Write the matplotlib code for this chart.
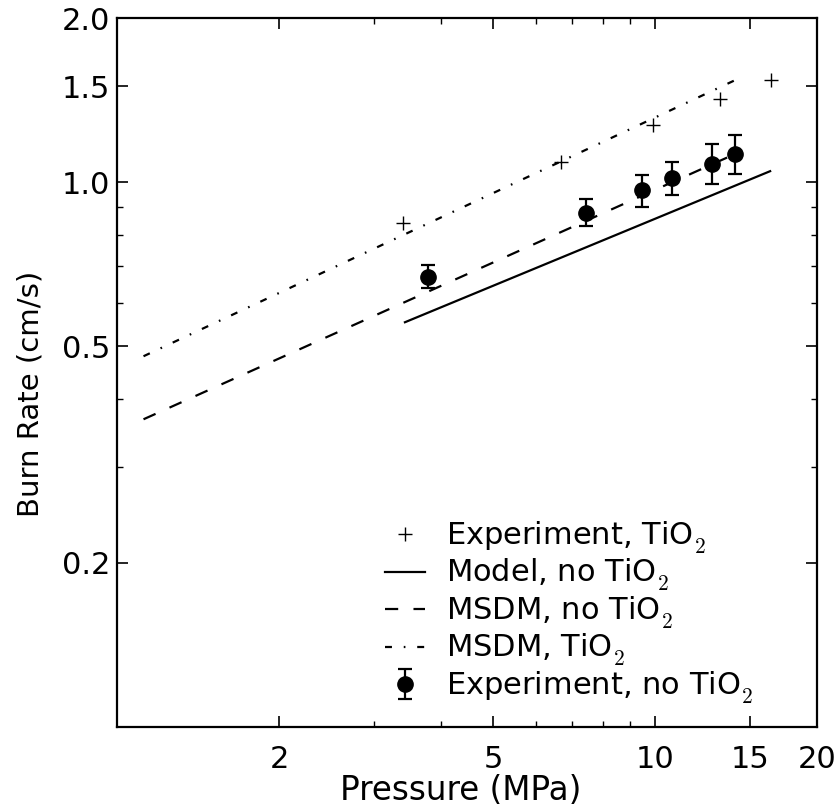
import matplotlib
matplotlib.use("Agg")
from matplotlib import pyplot as plt
from matplotlib.ticker import FixedLocator, FixedFormatter, NullFormatter

plt.rcParams['font.family'] = ['DejaVu Sans']
plt.rcParams['mathtext.fontset'] = 'cm'
plt.rcParams['lines.scale_dashes'] = False

# push the CM subscripts a bit lower, like the reference
try:
    import matplotlib._mathtext as _mt
    _mt.ComputerModernFontConstants.sub1 = 0.35
except Exception:
    pass

# Experiment, TiO2 (plus markers)
p_tio2 = [3.40, 6.68, 9.94, 13.19, 16.45]
r_tio2 = [0.841, 1.090, 1.272, 1.418, 1.539]

# Experiment, no TiO2 (filled circles with error bars)
p_exp = [3.78, 7.46, 9.46, 10.74, 12.76, 14.12]
r_exp = [0.670, 0.878, 0.967, 1.016, 1.080, 1.124]
err_lo = [0.031, 0.047, 0.067, 0.070, 0.087, 0.091]
err_hi = [0.034, 0.051, 0.063, 0.072, 0.094, 0.097]

# Model, no TiO2
p_model = [3.43, 16.38]
r_model = [0.553, 1.047]

# MSDM, no TiO2
p_msdm = [1.12, 14.5]
r_msdm = [0.367, 1.14]

# MSDM, TiO2
p_msdm_tio2 = [1.12, 14.54]
r_msdm_tio2 = [0.479, 1.56]

xticks = [2, 5, 10, 15, 20]
xminor = [3, 4, 6, 7, 8, 9]
yticks = [0.2, 0.5, 1.0, 1.5, 2.0]
yminor = [0.3, 0.4, 0.6, 0.7, 0.8, 0.9]

fig = plt.figure(figsize=(8.36, 8.11), dpi=100)
ax = fig.add_axes([0.140, 0.1036, 0.837, 0.8742])

ax.plot(p_tio2, r_tio2, ls='none', marker='+', ms=10.5, mew=1.0, color='k',
        label=r'Experiment, TiO$_2$')
ax.plot(p_model, r_model, '-', lw=1.6, color='k', label=r'Model, no TiO$_2$')
ax.plot(p_msdm, r_msdm, lw=1.6, color='k', ls=(0, (9.5, 11)),
        label=r'MSDM, no TiO$_2$')
ax.plot(p_msdm_tio2, r_msdm_tio2, lw=1.6, color='k', ls=(0, (5, 8.5, 1.2, 8.5)),
        label=r'MSDM, TiO$_2$')
ax.errorbar(p_exp, r_exp, yerr=[err_lo, err_hi], fmt='o', ms=11, color='k',
            ecolor='k', elinewidth=1.6, capsize=5, capthick=1.6,
            label=r'Experiment, no TiO$_2$')

ax.set_xscale('log')
ax.set_yscale('log')
ax.set_xlim(1, 20)
ax.set_ylim(0.1, 2.0)

ax.xaxis.set_major_locator(FixedLocator(xticks))
ax.xaxis.set_major_formatter(FixedFormatter([str(v) for v in xticks]))
ax.xaxis.set_minor_locator(FixedLocator(xminor))
ax.xaxis.set_minor_formatter(NullFormatter())
ax.yaxis.set_major_locator(FixedLocator(yticks))
ax.yaxis.set_major_formatter(FixedFormatter([f"{v:.1f}" for v in yticks]))
ax.yaxis.set_minor_locator(FixedLocator(yminor))
ax.yaxis.set_minor_formatter(NullFormatter())

ax.tick_params(which='both', direction='in', top=True, right=True, labelsize=22)
ax.tick_params(which='major', length=8, width=1.2)
ax.tick_params(which='minor', length=4, width=1.0)
ax.tick_params(axis='x', which='major', pad=13)
ax.tick_params(axis='y', which='major', pad=5)
for s in ax.spines.values():
    s.set_linewidth(1.6)

ax.set_xlabel('Pressure (MPa)', fontsize=23.5)
ax.set_ylabel('Burn Rate (cm/s)', fontsize=21)
ax.xaxis.set_label_coords(0.491, -0.066)
ax.yaxis.set_label_coords(-0.104, 0.47)

ax.legend(loc='lower right', frameon=False, fontsize=22, handlelength=1.3,
          handletextpad=0.7, labelspacing=0.045, bbox_to_anchor=(0.949, -0.009))

fig.savefig('out.png', dpi=100)
